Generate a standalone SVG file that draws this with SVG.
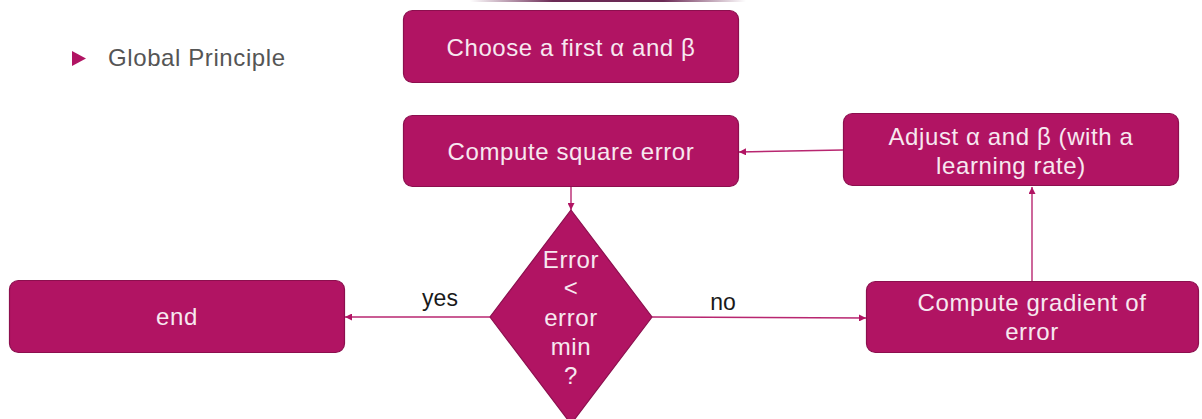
<svg xmlns="http://www.w3.org/2000/svg" width="1202" height="419" viewBox="0 0 1202 419">
  <style>
    .box { fill: #B11463; stroke: #8C0F4E; stroke-width: 1.2; }
    .lbl { font-family: "Liberation Sans", "DejaVu Sans", sans-serif; font-size: 24px; letter-spacing: 0.6px; fill: #F7E8F0; text-anchor: middle; }
    .edge { stroke: #B82670; stroke-width: 1.4; fill: none; marker-end: url(#arrow); }
    .elbl { font-family: "Liberation Sans", "DejaVu Sans", sans-serif; font-size: 23px; fill: #1a1a1a; text-anchor: middle; }
  </style>
  <defs>
    <marker id="arrow" viewBox="0 0 10 10" refX="10" refY="5" markerWidth="7" markerHeight="7" markerUnits="userSpaceOnUse" orient="auto">
      <path d="M0,0 L10,5 L0,10 z" fill="#B11463"/>
    </marker>
    <linearGradient id="topbar" x1="0" x2="1" y1="0" y2="0">
      <stop offset="0" stop-color="#6b2a55" stop-opacity="0"/>
      <stop offset="0.3" stop-color="#6b2a55"/>
      <stop offset="0.7" stop-color="#6b2a55"/>
      <stop offset="1" stop-color="#6b2a55" stop-opacity="0"/>
    </linearGradient>
  </defs>
  <rect width="1202" height="419" fill="#ffffff"/>
  <!-- thin bar along the top edge -->
  <rect x="470" y="0" width="276" height="2" fill="url(#topbar)"/>

  <!-- bullet heading -->
  <g id="heading">
    <path d="M72,51 L86,58.5 L72,66 z" fill="#B11463"/>
    <text x="108" y="66" font-family="Liberation Sans, DejaVu Sans, sans-serif" font-size="24" letter-spacing="0.6" fill="#555555">Global Principle</text>
  </g>

  <g id="choose">
    <rect class="box" x="403.5" y="10.5" width="335" height="72" rx="9"/>
    <text class="lbl" x="571" y="56">Choose a first α and β</text>
  </g>

  <g id="square-error">
    <rect class="box" x="403.5" y="115.5" width="335" height="71" rx="9"/>
    <text class="lbl" x="571" y="160">Compute square error</text>
  </g>

  <g id="adjust">
    <rect class="box" x="843.5" y="113.5" width="335" height="72" rx="9"/>
    <text class="lbl" x="1011" y="145">Adjust α and β (with a</text>
    <text class="lbl" x="1011" y="174">learning rate)</text>
  </g>

  <g id="decision">
    <path class="box" d="M571,210 L652,317 L571,424 L490,317 z"/>
    <text class="lbl" x="571" y="268">Error</text>
    <text class="lbl" x="571" y="296">&lt;</text>
    <text class="lbl" x="571" y="326">error</text>
    <text class="lbl" x="571" y="355">min</text>
    <text class="lbl" x="571" y="384">?</text>
  </g>

  <g id="end">
    <rect class="box" x="9.5" y="280.5" width="335" height="72" rx="9"/>
    <text class="lbl" x="177" y="325">end</text>
  </g>

  <g id="gradient">
    <rect class="box" x="866.5" y="281.5" width="332" height="71" rx="9"/>
    <text class="lbl" x="1032" y="311">Compute gradient of</text>
    <text class="lbl" x="1032" y="340">error</text>
  </g>

  <g id="connectors">
    <line class="edge" x1="571" y1="187" x2="571" y2="210"/>
    <line class="edge" x1="490" y1="317" x2="345" y2="317"/>
    <line class="edge" x1="652" y1="317" x2="866" y2="318"/>
    <line class="edge" x1="1032" y1="281" x2="1032" y2="187"/>
    <line class="edge" x1="843" y1="150" x2="739" y2="152"/>
    <text class="elbl" x="440" y="306">yes</text>
    <text class="elbl" x="723" y="310">no</text>
  </g>
</svg>
